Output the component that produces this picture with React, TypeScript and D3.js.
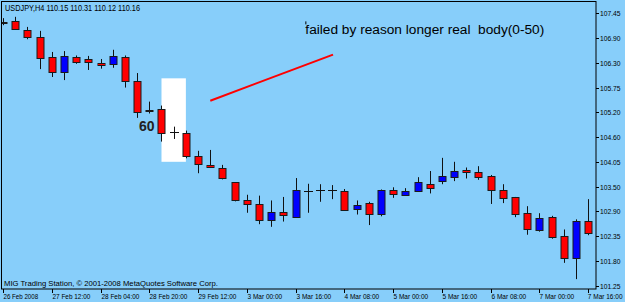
import React, { useEffect, useRef } from 'react';
import * as d3 from 'd3';

// USDJPY H4 bars (first one is clipped by the left edge)
const opens = [107.24, 107.27, 107.07, 106.90, 106.46, 106.11, 106.46, 106.40, 106.33, 106.29,
  106.46, 105.91, 105.24, 105.27, 104.75, 104.73, 104.20, 104.00, 103.94, 103.60,
  103.20, 103.10, 102.75, 102.93, 102.81, 103.41, 103.42, 103.42, 103.41, 103.00,
  103.13, 102.88, 103.43, 103.32, 103.40, 103.57, 103.63, 103.73, 103.88, 103.83,
  103.75, 103.43, 103.26, 102.90, 102.52, 102.81, 102.37, 101.87, 102.72];
const highs = [107.34, 107.37, 107.14, 107.05, 106.57, 106.59, 106.49, 106.48, 106.41, 106.62,
  106.49, 106.09, 105.44, 105.35, 104.87, 104.78, 104.32, 104.34, 104.00, 103.61,
  103.32, 103.30, 103.19, 103.27, 103.70, 103.57, 103.56, 103.54, 103.45, 103.19,
  103.16, 103.44, 103.49, 103.47, 103.72, 103.86, 104.16, 104.07, 103.94, 103.97,
  103.77, 103.56, 103.27, 103.06, 102.90, 102.84, 102.53, 102.76, 103.22];
const lows = [107.18, 107.07, 106.86, 106.18, 106.00, 105.93, 106.30, 106.16, 106.19, 106.21,
  105.76, 105.07, 105.17, 104.53, 104.59, 104.15, 103.81, 103.94, 103.67, 103.17,
  102.91, 102.65, 102.59, 102.71, 102.80, 102.91, 103.16, 103.22, 102.95, 102.87,
  102.63, 102.83, 103.25, 103.31, 103.39, 103.35, 103.56, 103.63, 103.69, 103.66,
  103.11, 103.13, 102.81, 102.41, 102.48, 102.32, 101.77, 101.40, 102.40];
const closes = [107.26, 107.09, 106.91, 106.44, 106.11, 106.48, 106.35, 106.34, 106.27, 106.48,
  105.91, 105.21, 105.26, 104.72, 104.75, 104.21, 104.01, 103.95, 103.71, 103.19,
  103.10, 102.74, 102.92, 102.87, 103.43, 103.41, 103.42, 103.42, 102.97, 103.09,
  102.89, 103.43, 103.34, 103.41, 103.60, 103.47, 103.75, 103.87, 103.84, 103.72,
  103.42, 103.25, 102.88, 102.53, 102.78, 102.36, 101.87, 102.72, 102.44];

const priceTicks = ['107.45', '106.90', '106.30', '105.75', '105.20', '104.60', '104.05',
  '103.50', '102.90', '102.35', '101.80', '101.25'];
const timeTickBars = [0, 4, 8, 12, 16, 20, 24, 28, 32, 36, 40, 44, 48];
const timeLabels = ['26 Feb 2008', '27 Feb 12:00', '28 Feb 04:00', '28 Feb 20:00', '29 Feb 12:00',
  '3 Mar 00:00', '3 Mar 16:00', '4 Mar 08:00', '5 Mar 00:00', '5 Mar 16:00', '6 Mar 08:00',
  '7 Mar 00:00', '7 Mar 16:00'];

// annotations drawn on the chart (bar index, price)
const highlightBars = [13, 15];
const highlightPrices = [105.97, 104.07];
const trendBars = [17, 27.07];
const trendPrices = [105.46, 106.51];
const noteText = 'failed by reason longer real  body(0-50)';
const noteAt = [24.8, 106.97];
const markText = '60';
const markAt = [11.15, 104.76];

function App() {
  const ref = useRef(null);
  const W = 625, H = 302;
  const plot = { left: 1.5, top: 1.5, right: 596, bottom: 289 };

  useEffect(() => {
    if (!ref.current) return;
    const svg = d3.select(ref.current);
    svg.selectAll('*').remove();

    const x = d3.scaleLinear().domain([0, 48]).range([3, 588.2]);
    const y = d3.scaleLinear().domain([101.25, 107.45]).range([285.7, 13.3]);
    const font = "'Liberation Sans', Arial, sans-serif";

    svg.append('rect').attr('width', W).attr('height', H).attr('fill', '#87cefa');

    svg.append('clipPath').attr('id', 'plotclip')
      .append('rect')
      .attr('x', plot.left).attr('y', plot.top)
      .attr('width', plot.right - plot.left).attr('height', plot.bottom - plot.top);

    const g = svg.append('g').attr('clip-path', 'url(#plotclip)');

    // white highlight box behind the candles
    g.append('rect')
      .attr('x', x(highlightBars[0]))
      .attr('y', y(highlightPrices[0]))
      .attr('width', x(highlightBars[1]) - x(highlightBars[0]))
      .attr('height', y(highlightPrices[1]) - y(highlightPrices[0]))
      .attr('fill', '#ffffff');

    const idx = d3.range(opens.length);
    const px = (i) => Math.round(x(i)) + 0.5;

    // wicks
    g.selectAll('line.wick').data(idx).enter().append('line')
      .attr('class', 'wick')
      .attr('x1', (i) => px(i)).attr('x2', (i) => px(i))
      .attr('y1', (i) => y(highs[i])).attr('y2', (i) => y(lows[i]))
      .attr('stroke', '#111').attr('stroke-width', 1);

    // bodies
    idx.forEach((i) => {
      const o = opens[i], c = closes[i];
      if (o === c) {
        g.append('line')
          .attr('x1', px(i) - 4.5).attr('x2', px(i) + 4.5)
          .attr('y1', Math.round(y(o)) + 0.5).attr('y2', Math.round(y(o)) + 0.5)
          .attr('stroke', '#111').attr('stroke-width', 1);
        return;
      }
      const top = Math.round(y(Math.max(o, c))) + 0.5;
      const bot = Math.round(y(Math.min(o, c))) + 0.5;
      g.append('rect')
        .attr('x', px(i) - 3.5).attr('y', top)
        .attr('width', 7).attr('height', Math.max(1, bot - top))
        .attr('fill', c > o ? '#0000ff' : '#ff0000')
        .attr('stroke', '#1a1a1a').attr('stroke-width', 1);
    });

    // red trend line
    g.append('line')
      .attr('x1', x(trendBars[0])).attr('y1', y(trendPrices[0]))
      .attr('x2', x(trendBars[1])).attr('y2', y(trendPrices[1]))
      .attr('stroke', '#ff0000').attr('stroke-width', 2);

    // text labels
    g.append('text')
      .attr('x', x(noteAt[0])).attr('y', y(noteAt[1]))
      .attr('font-family', font).attr('font-size', 13.7)
      .attr('fill', '#000').style('white-space', 'pre')
      .text(noteText);
    g.append('line')
      .attr('x1', x(noteAt[0]) + 0.5).attr('x2', x(noteAt[0]) + 0.5)
      .attr('y1', y(noteAt[1]) - 13).attr('y2', y(noteAt[1]) - 10)
      .attr('stroke', '#000');

    g.append('text')
      .attr('x', x(markAt[0])).attr('y', y(markAt[1]))
      .attr('font-family', font).attr('font-size', 14)
      .attr('font-weight', 'bold')
      .attr('fill', '#222')
      .text(markText);

    // header
    svg.append('text')
      .attr('x', 5).attr('y', 10.5)
      .attr('font-family', font).attr('font-size', 8.4)
      .attr('textLength', 135).attr('lengthAdjust', 'spacingAndGlyphs')
      .attr('fill', '#000')
      .text('USDJPY,H4  110.15 110.31 110.12 110.16');

    svg.append('text')
      .attr('x', 4).attr('y', 285.5)
      .attr('font-family', font).attr('font-size', 7.8)
      .attr('textLength', 214).attr('lengthAdjust', 'spacingAndGlyphs')
      .attr('fill', '#000')
      .text('MIG Trading Station, © 2001-2008 MetaQuotes Software Corp.');

    // frame
    svg.append('rect')
      .attr('x', plot.left).attr('y', plot.top)
      .attr('width', plot.right - plot.left).attr('height', plot.bottom - plot.top)
      .attr('fill', 'none').attr('stroke', '#000').attr('stroke-width', 1);

    // price axis (labels at equal pixel steps like the terminal)
    const py = d3.scaleLinear().domain([0, priceTicks.length - 1]).range([y(107.45), y(101.25)]);
    const pa = svg.append('g');
    priceTicks.forEach((t, k) => {
      const yy = Math.round(py(k)) + 0.5;
      pa.append('line').attr('x1', plot.right).attr('x2', plot.right + 3)
        .attr('y1', yy).attr('y2', yy).attr('stroke', '#000');
      pa.append('text').attr('x', 600).attr('y', yy + 2.8)
        .attr('font-family', font).attr('font-size', 7.8).attr('fill', '#000')
        .attr('textLength', 20.5).attr('lengthAdjust', 'spacingAndGlyphs')
        .text(t);
    });

    // time axis
    const ta = svg.append('g');
    timeTickBars.forEach((b, k) => {
      const xx = Math.round(x(b)) + 0.5;
      const label = timeLabels[k];
      const len = label.length * 3.15;
      const last = k === timeTickBars.length - 1;
      ta.append('line').attr('x1', xx).attr('x2', xx)
        .attr('y1', plot.bottom).attr('y2', plot.bottom + 4).attr('stroke', '#000');
      ta.append('text').attr('x', Math.min(xx, W - 2.5 - len)).attr('y', 298.8)
        .attr('font-family', font).attr('font-size', last ? 6.4 : 7.8).attr('fill', '#000')
        .attr('textLength', len).attr('lengthAdjust', 'spacingAndGlyphs')
        .text(label);
    });
  }, []);

  return (
    <svg ref={ref} width={W} height={H}
      style={{ position: 'absolute', left: 0, top: 0, display: 'block' }} />
  );
}

export default App;
